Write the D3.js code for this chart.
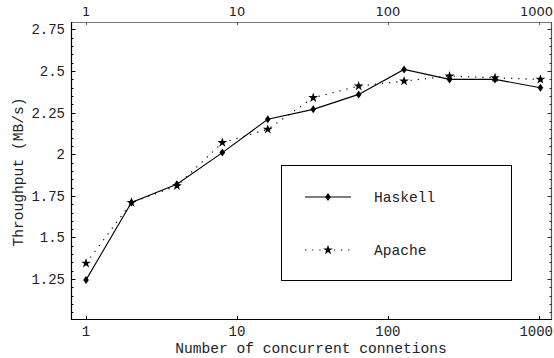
<!DOCTYPE html>
<html><head><meta charset="utf-8">
<script src="https://cdn.jsdelivr.net/npm/d3@7"></script>
<style>body{margin:0;background:#fff}svg{display:block}</style>
</head><body>
<svg id="c" width="554" height="358"></svg>
<script>
const connections = [1, 2, 4, 8, 16, 32, 64, 128, 256, 512, 1024];
const haskell = [1.245, 1.71, 1.82, 2.01, 2.21, 2.27, 2.36, 2.51, 2.45, 2.45, 2.40];
const apache  = [1.345, 1.71, 1.81, 2.07, 2.15, 2.34, 2.41, 2.44, 2.47, 2.46, 2.45];
const xTicks = [1, 10, 100, 1000];
const yTicks = [1.25, 1.5, 1.75, 2, 2.25, 2.5, 2.75];
const yTickLabels = ["1.25", "1.5", "1.75", "2", "2.25", "2.5", "2.75"];
const seriesNames = ["Haskell", "Apache"];

const svg = d3.select("#c");
const L = 71, R = 552, T = 22, B = 319;
const x = d3.scaleLog().domain([0.795, 1222]).range([L, R]);
const y = d3.scaleLinear().domain([1.01, 2.795]).range([B, T]);
const mono = "'Liberation Mono', 'Courier New', monospace";
const sans = "'DejaVu Sans', sans-serif";

// frame
svg.append("line").attr("x1", L).attr("x2", R).attr("y1", T + 0.5).attr("y2", T + 0.5).attr("stroke", "#777").attr("stroke-width", 1.2);
svg.append("line").attr("x1", R - 0.5).attr("x2", R - 0.5).attr("y1", T).attr("y2", B).attr("stroke", "#555").attr("stroke-width", 1.2);
svg.append("line").attr("x1", L).attr("x2", R).attr("y1", B + 0.5).attr("y2", B + 0.5).attr("stroke", "#000").attr("stroke-width", 1.2);
svg.append("line").attr("x1", L + 0.5).attr("x2", L + 0.5).attr("y1", T).attr("y2", B + 1).attr("stroke", "#000").attr("stroke-width", 1.2);

// y ticks (major + minor) on left and right
const minor = d3.range(21, 56).map(i => i * 0.05).filter(v => v > 1.01 && v < 2.795);
minor.forEach(v => {
  const isMajor = Math.abs(v * 4 - Math.round(v * 4)) < 1e-6;
  const len = isMajor ? 4.5 : 2.5;
  const yy = Math.round(y(v)) + 0.5;
  svg.append("line").attr("x1", L).attr("x2", L + len).attr("y1", yy).attr("y2", yy).attr("stroke", "#000").attr("stroke-width", 1);
  svg.append("line").attr("x1", R).attr("x2", R - len).attr("y1", yy).attr("y2", yy).attr("stroke", "#333").attr("stroke-width", 1);
});
// y labels
yTicks.forEach((v, i) => {
  svg.append("text").attr("x", 65).attr("y", y(v) + 5).attr("text-anchor", "end")
    .attr("font-family", mono).attr("font-size", 14).attr("fill", "#222").text(yTickLabels[i]);
});

// x ticks top & bottom
xTicks.forEach((v, i) => {
  const xx = Math.round(x(v)) + 0.5;
  const last = i === xTicks.length - 1;
  svg.append("line").attr("x1", xx).attr("x2", xx).attr("y1", B).attr("y2", B - 3).attr("stroke", "#000");
  svg.append("line").attr("x1", xx).attr("x2", xx).attr("y1", T).attr("y2", T + 3).attr("stroke", "#555");
  svg.append("text").attr("x", last ? 553 : x(v)).attr("y", 336).attr("text-anchor", last ? "end" : "middle")
    .attr("font-family", mono).attr("font-size", 14).attr("fill", "#222").text(v);
  svg.append("text").attr("x", last ? 553 : x(v)).attr("y", 16).attr("text-anchor", last ? "end" : "middle")
    .attr("font-family", sans).attr("font-size", 13).attr("fill", "#222").text(v);
});

// axis titles
svg.append("text").attr("x", 311).attr("y", 353).attr("text-anchor", "middle")
  .attr("font-family", mono).attr("font-size", 14.6).attr("fill", "#222").text("Number of concurrent connetions");
svg.append("text").attr("transform", "translate(23,172) rotate(-90)").attr("text-anchor", "middle")
  .attr("font-family", mono).attr("font-size", 14.6).attr("fill", "#222").text("Throughput (MB/s)");

// lines
const lineGen = d3.line().x(d => x(d[0])).y(d => y(d[1]));
const hData = connections.map((c, i) => [c, haskell[i]]);
const aData = connections.map((c, i) => [c, apache[i]]);
svg.append("path").attr("d", lineGen(aData)).attr("fill", "none").attr("stroke", "#000")
  .attr("stroke-width", 1.2).attr("stroke-dasharray", "1.2,6");
svg.append("path").attr("d", lineGen(hData)).attr("fill", "none").attr("stroke", "#000").attr("stroke-width", 1.1);

const diamond = "M0,-4L2.8,0L0,4L-2.8,0Z";
const star = d3.symbol().type(d3.symbolStar).size(30)();
function drawMarkers(data, path) {
  svg.append("g").selectAll("path").data(data).join("path")
    .attr("transform", d => `translate(${x(d[0])},${y(d[1])})`)
    .attr("d", path).attr("fill", "#000");
}
drawMarkers(aData, star);
drawMarkers(hData, diamond);

// legend
const lg = svg.append("g");
lg.append("rect").attr("x", 281.5).attr("y", 165.5).attr("width", 230).attr("height", 115)
  .attr("fill", "#fff").attr("stroke", "#000").attr("stroke-width", 1);
const legendY = [197, 250];
seriesNames.forEach((name, i) => {
  const yy = legendY[i];
  lg.append("line").attr("x1", 305).attr("x2", 351).attr("y1", yy).attr("y2", yy).attr("stroke", "#000")
    .attr("stroke-width", i === 0 ? 1.1 : 1.2).attr("stroke-dasharray", i === 0 ? null : "1.2,6");
  lg.append("path").attr("transform", `translate(328,${yy})`).attr("d", i === 0 ? diamond : star).attr("fill", "#000");
  lg.append("text").attr("x", 374).attr("y", yy + 5).attr("font-family", mono).attr("font-size", 14.6)
    .attr("fill", "#222").text(name);
});
</script>
</body></html>
